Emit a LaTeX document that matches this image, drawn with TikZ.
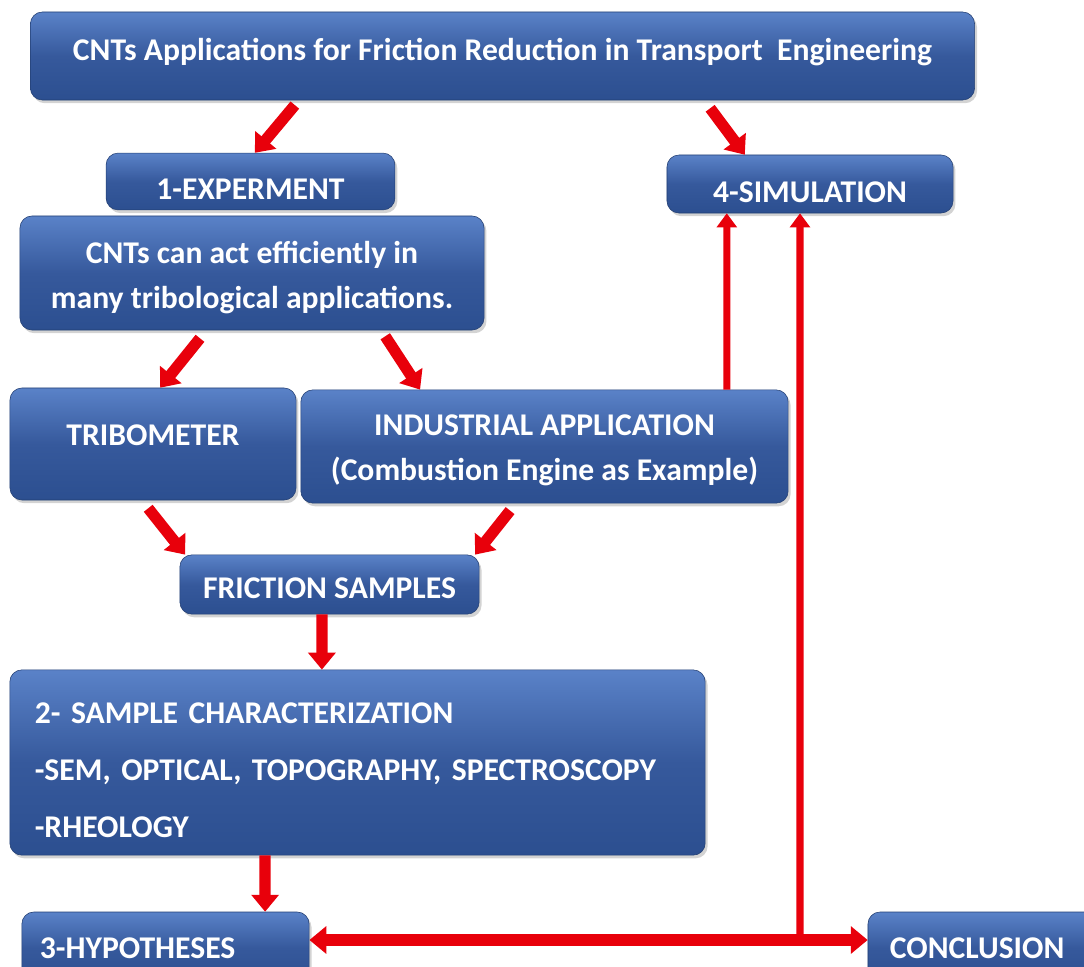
\documentclass[tikz,border=0pt]{standalone}
\usepackage{fontspec}
\setmainfont{Carlito}
\usetikzlibrary{arrows.meta,shadows}
\definecolor{boxtop}{HTML}{5A82C8}
\definecolor{boxmid}{HTML}{36599C}
\definecolor{boxbot}{HTML}{2C4F90}
\definecolor{arrred}{HTML}{E8000B}
\begin{document}
\begin{tikzpicture}[
            x = 0.025cm, y = -0.025cm,
            every node/.style={text=white, font=\bfseries\fontsize{22.5}{27}\selectfont},
            box/.style={rounded corners=0.3cm, draw=boxbot!80!black, line width=.4pt,
                top color=boxtop, bottom color=boxbot, middle color=boxmid,
                drop shadow={opacity=.35, shadow xshift=.06cm, shadow yshift=-.08cm},
                inner sep=0pt},
            low/.style={text height=#1, text depth=0pt},
            high/.style={text height=14.5pt, text depth=#1},
            link/.style={draw=arrred, line width=8pt, -{Triangle[length=12pt, width=19pt]}},
            thin/.style={draw=arrred, line width=5pt, -{Triangle[length=10pt, width=14pt]}},
            ]
        \useasboundingbox (0,0) rectangle (1084,966);
        \clip (0,0) rectangle (1084,966);

        \node[box, minimum width=23.6cm, minimum height=2.2cm, text height=16pt, text depth=10pt] (0) at (502.5,56) {CNTs Applications for Friction Reduction in Transport\ \ Engineering};
        \node[box, minimum width=7.22cm, minimum height=1.42cm, low=26pt] (1) at (250.5,181.5) {1-EXPERMENT};
        \node[box, minimum width=7.15cm, minimum height=1.45cm, low=26pt] (4) at (810,184) {4-SIMULATION};
        \node[box, minimum width=11.6cm, minimum height=2.85cm, align=center] (c) at (252,273) {\rule{0pt}{23pt}CNTs can act efficiently in\\[5pt] many tribological applications.};
        \node[box, minimum width=7.15cm, minimum height=2.8cm, high=12.8pt] (t) at (153,444) {TRIBOMETER};
        \node[box, minimum width=12.18cm, minimum height=2.83cm, align=center] (i) at (544.5,446.5) {\rule{0pt}{20pt}INDUSTRIAL APPLICATION\\[5pt] (Combustion Engine as Example)};
        \node[box, minimum width=7.48cm, minimum height=1.48cm, low=20pt] (f) at (329.5,584.5) {FRICTION SAMPLES};
        \node[box, minimum width=17.38cm, minimum height=4.63cm, align=left, text width=16.13cm] (2) at (357.5,762.5) {\rule{0pt}{26pt}2- SAMPLE CHARACTERIZATION\\[13.5pt] -SEM, OPTICAL, TOPOGRAPHY, SPECTROSCOPY\\[13.5pt] -RHEOLOGY};
        \node[box, minimum width=7.18cm, minimum height=1.8cm, align=left, text width=6.28cm] (3) at (165.5,948) {3-HYPOTHESES};
        \node[box, minimum width=7.05cm, minimum height=1.8cm, align=left, text width=5.95cm] (5) at (1009,948) {CONCLUSION};
        \coordinate (j) at (800,940);

        \draw[link] ([xshift=-5.19cm, yshift=-.12cm]0.south) -- ([xshift=.11cm]1.north);
        \draw[link] ([xshift=5.19cm, yshift=-.2cm]0.south) -- ([xshift=-1.63cm]4.north);
        \draw[link] ([xshift=-1.3cm, yshift=-.2cm]c.south) -- ([xshift=.18cm]t.north);
        \draw[link] ([xshift=3.33cm, yshift=-.15cm]c.south) -- ([xshift=-3.11cm]i.north);
        \draw[link] ([xshift=-.12cm, yshift=-.2cm]t.south) -- ([xshift=-3.61cm]f.north);
        \draw[link] ([xshift=-.86cm, yshift=-.18cm]i.south) -- ([xshift=3.64cm]f.north);
        \draw[link] ([xshift=-.19cm]f.south) -- ([xshift=-.89cm]2.north);
        \draw[link] ([xshift=-2.31cm]2.south) -- ([xshift=2.49cm]3.north);
        \draw[thin] ([xshift=4.56cm]i.north) -- ([xshift=-2.08cm]4.south);
        \draw[thin] (j) -- ([xshift=-.25cm]4.south);
        \draw[link, {Triangle[length=12pt, width=19pt]}-{Triangle[length=12pt, width=19pt]}] ([yshift=.2cm]3.east) -- ([yshift=.2cm]5.west);
    \end{tikzpicture}
\end{document}
